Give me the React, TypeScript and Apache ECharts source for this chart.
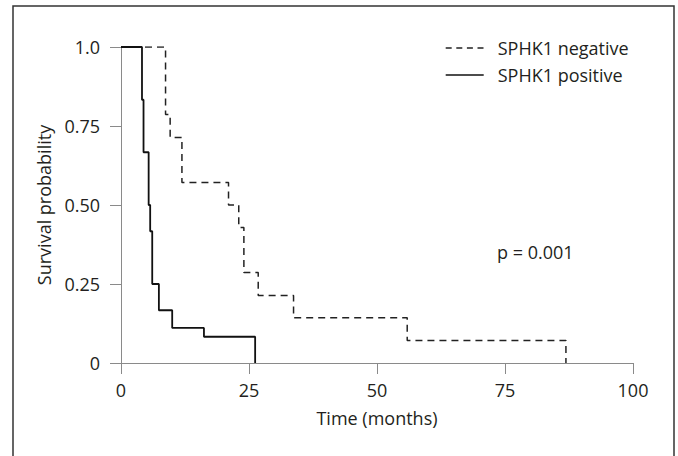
import React, { useEffect, useRef } from "react";
import * as echarts from "echarts";

// Kaplan–Meier step points (time in months, survival probability)
const negativeTimes = [0, 8.7, 9.6, 11.9, 21.0, 23.0, 24.0, 26.8, 33.7, 55.9, 86.9];
const negativeSurvival = [1, 0.786, 0.714, 0.571, 0.5, 0.429, 0.286, 0.214, 0.143, 0.071, 0];
const positiveTimes = [0, 4.1, 4.4, 5.4, 5.7, 6.1, 7.4, 10.0, 16.2, 26.2];
const positiveSurvival = [1, 0.833, 0.667, 0.5, 0.417, 0.25, 0.167, 0.111, 0.083, 0];

const seriesNames = ["SPHK1 negative", "SPHK1 positive"];
const xTickLabels = ["0", "25", "50", "75", "100"];
const yTickLabels = ["0", "0.25", "0.50", "0.75", "1.0"];
const xAxisName = "Time (months)";
const yAxisName = "Survival probability";
const pValueText = "p = 0.001";

const FONT = "'Open Sans', 'Noto Sans', sans-serif";
const FS = 18;
const TEXT = "#231f20";
const AXIS = "#8a8a8a";

export default function App() {
  const ref = useRef<HTMLDivElement>(null);
  useEffect(() => {
    if (!ref.current) return;
    const chart = echarts.init(ref.current, undefined, { renderer: "svg" });
    const neg = negativeTimes.map((t, i) => [t, negativeSurvival[i]]);
    const pos = positiveTimes.map((t, i) => [t, positiveSurvival[i]]);
    chart.setOption({
      animation: false,
      backgroundColor: "#ffffff",
      textStyle: { fontFamily: FONT, color: TEXT },
      grid: { left: 121, right: 45, top: 47, bottom: 93, containLabel: false },
      legend: {
        orient: "vertical",
        left: 445,
        top: 39,
        padding: 0,
        itemWidth: 38,
        itemHeight: 16,
        itemGap: 9,
        data: [
          { name: seriesNames[0], lineStyle: { type: [6, 4.6], width: 1.4 } },
          { name: seriesNames[1], lineStyle: { width: 1.4 } },
        ],
        itemStyle: { opacity: 0 },
        textStyle: { fontFamily: FONT, fontSize: FS, color: TEXT, padding: [0, 0, 0, 9] },
      },
      xAxis: {
        type: "value",
        min: 0,
        max: 100,
        interval: 25,
        name: xAxisName,
        nameLocation: "middle",
        nameGap: 46,
        nameTextStyle: { fontFamily: FONT, fontSize: FS, color: TEXT },
        axisLine: { show: true, lineStyle: { color: AXIS, width: 1 } },
        axisTick: { show: true, length: 11, lineStyle: { color: AXIS, width: 1 } },
        axisLabel: {
          margin: 18,
          fontFamily: FONT,
          fontSize: FS,
          color: TEXT,
          formatter: (v: number) => xTickLabels[Math.round(v / 25)] ?? "",
        },
        splitLine: { show: false },
      },
      yAxis: {
        type: "value",
        min: 0,
        max: 1,
        interval: 0.25,
        name: yAxisName,
        nameLocation: "middle",
        nameGap: 66,
        nameTextStyle: { fontFamily: FONT, fontSize: FS, color: TEXT },
        axisLine: { show: true, lineStyle: { color: AXIS, width: 1 } },
        axisTick: { show: true, length: 11, lineStyle: { color: AXIS, width: 1 } },
        axisLabel: {
          margin: 21,
          fontFamily: FONT,
          fontSize: FS,
          color: TEXT,
          formatter: (v: number) => yTickLabels[Math.round(v / 0.25)] ?? "",
        },
        splitLine: { show: false },
      },
      series: [
        {
          name: seriesNames[0],
          type: "line",
          step: "end",
          data: neg,
          symbol: "none",
          lineStyle: { color: "#222", width: 1.5, type: [7, 5] },
          itemStyle: { color: "#222" },
          z: 2,
        },
        {
          name: seriesNames[1],
          type: "line",
          step: "end",
          data: pos,
          symbol: "none",
          lineStyle: { color: "#111", width: 1.8, type: "solid" },
          itemStyle: { color: "#111" },
          z: 3,
        },
      ],
      graphic: [
        {
          type: "rect",
          silent: true,
          shape: { x: 13, y: 6, width: 661, height: 470 },
          style: { fill: "none", stroke: "#333", lineWidth: 1.5 },
        },
        {
          type: "text",
          left: 497,
          top: 243,
          style: { text: pValueText, font: `${FS}px ${FONT}`, fill: TEXT },
        },
      ],
    });
    return () => chart.dispose();
  }, []);
  return (
    <div
      ref={ref}
      style={{ position: "fixed", left: 0, top: 0, width: 678, height: 456 }}
    />
  );
}
